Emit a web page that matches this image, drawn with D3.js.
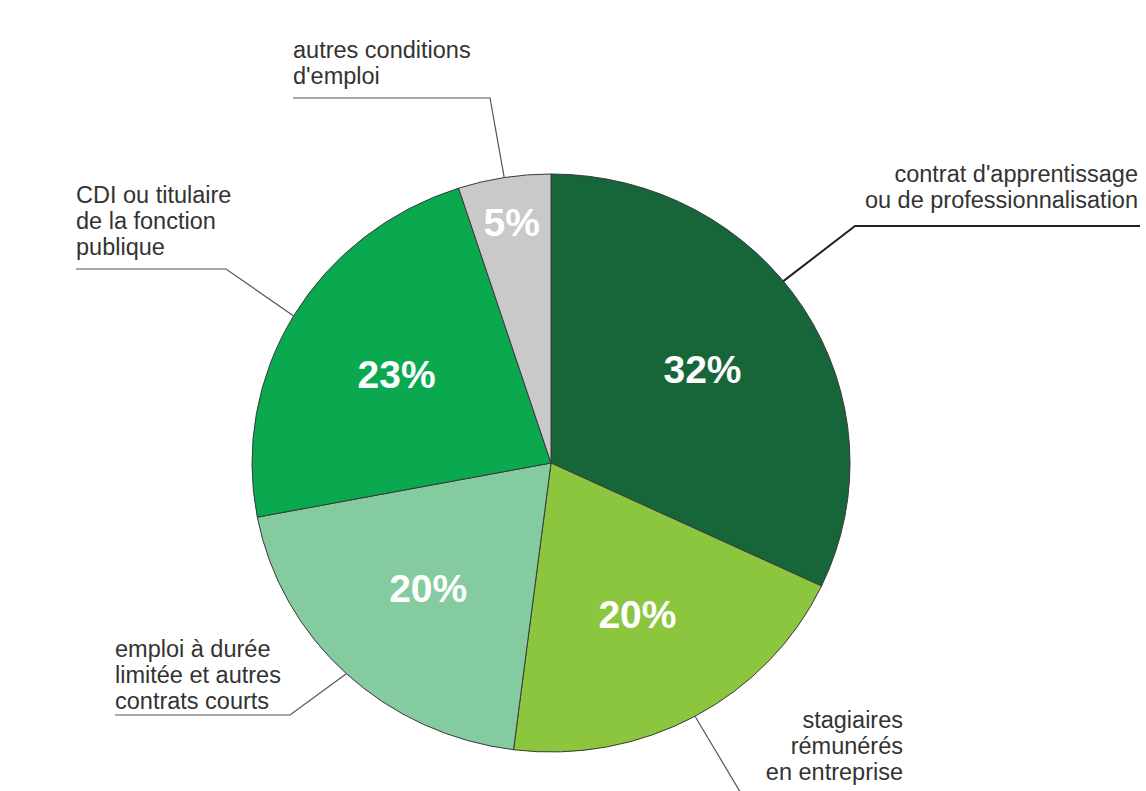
<!DOCTYPE html>
<html>
<head>
<meta charset="utf-8">
<script src="https://cdn.jsdelivr.net/npm/d3@7"></script>
<style>
  body { margin: 0; background: #fff; }
  svg { display: block; font-family: "Liberation Sans", Arial, sans-serif; }
</style>
</head>
<body>
<svg id="chart" width="1146" height="791"></svg>
<script>
// data, clockwise from 12 o'clock
const categories = [
  "contrat d'apprentissage|ou de professionnalisation",
  "stagiaires|rémunérés|en entreprise",
  "emploi à durée|limitée et autres|contrats courts",
  "CDI ou titulaire|de la fonction|publique",
  "autres conditions|d'emploi"
];
const shares = [32, 20, 20, 23, 5];
const colours = ["#17663a", "#8cc63f", "#85cba0", "#0aa84f", "#c9c9c9"];

const svg = d3.select('#chart');
// the picture is slightly squashed vertically, so the pie is an ellipse
const cx = 551, cy = 463, rx = 299, ry = 289;
const g = svg.append('g').attr('transform', `translate(${cx},${cy}) scale(1,${ry / rx})`);

const pie = d3.pie().sort(null).value(d => d.value);
const arcs = pie(shares.map((v, i) => ({ value: v, name: categories[i], colour: colours[i] })));
const arc = d3.arc().innerRadius(0).outerRadius(rx);

g.selectAll('path.slice')
  .data(arcs)
  .enter()
  .append('path')
  .attr('class', 'slice')
  .attr('d', arc)
  .attr('vector-effect', 'non-scaling-stroke')
  .style('fill', d => d.data.colour)
  .style('stroke', '#3a3a3a')
  .style('stroke-width', 1);

// point on the ellipse for angle a (radians, clockwise from top), k = fraction of radius
function onPie(a, k) {
  return [cx + k * rx * Math.sin(a), cy - k * ry * Math.cos(a)];
}

// percentage labels inside the slices (small slice pushed out)
svg.append('g').selectAll('text.pct')
  .data(arcs)
  .enter()
  .append('text')
  .attr('class', 'pct')
  .attr('transform', d => {
    const p = onPie((d.startAngle + d.endAngle) / 2, d.data.value < 10 ? 0.84 : 0.6);
    return `translate(${p[0]},${p[1]})`;
  })
  .attr('text-anchor', 'middle')
  .attr('dy', '0.33em')
  .style('fill', '#fff')
  .style('font-weight', 'bold')
  .style('font-size', '39px')
  .text(d => d.data.value + '%');

// outside labels: text block origin, underline span and alignment
const labelLayout = [
  { x: 1138, y: 182, anchor: 'end', under: [855, 1140], uy: 226, angle: 51, heavy: true },
  { x: 903, y: 728, anchor: 'end', under: [742, 742], uy: 795, angle: null },
  { x: 115, y: 657, anchor: 'start', under: [115, 290], uy: 715, angle: null },
  { x: 76, y: 203, anchor: 'start', under: [76, 226], uy: 269, angle: null },
  { x: 293, y: 58, anchor: 'start', under: [293, 490], uy: 98, angle: null }
];

const labels = svg.append('g');
arcs.forEach((d, i) => {
  const L = labelLayout[i];
  const lines = d.data.name.split('|');
  const t = labels.append('text')
    .attr('x', L.x)
    .attr('y', L.y)
    .attr('text-anchor', L.anchor)
    .style('font-size', '23.5px')
    .style('fill', '#333');
  lines.forEach((s, j) => {
    t.append('tspan').attr('x', L.x).attr('dy', j === 0 ? 0 : 26).text(s);
  });

  const a = L.angle !== null ? L.angle * Math.PI / 180 : (d.startAngle + d.endAngle) / 2;
  const p = onPie(a, 1);
  const near = L.anchor === 'end' ? L.under[0] : L.under[1];
  const far = L.anchor === 'end' ? L.under[1] : L.under[0];
  labels.append('path')
    .attr('d', d3.line()([p, [near, L.uy], [far, L.uy]]))
    .style('fill', 'none')
    .style('stroke', L.heavy ? '#222' : '#555')
    .style('stroke-width', L.heavy ? 2 : 1.2);
});
</script>
</body>
</html>
